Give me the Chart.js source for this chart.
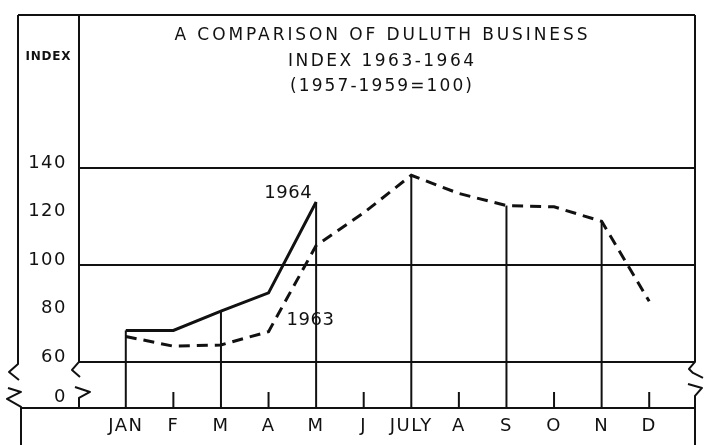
<!DOCTYPE html>
<html>
<head>
<meta charset="utf-8">
<script src="https://cdn.jsdelivr.net/npm/chart.js@4.4.1/dist/chart.umd.min.js"></script>
<style>
  html, body { margin: 0; padding: 0; background: #fff; }
  #wrap { width: 704px; height: 445px; }
</style>
</head>
<body>
<div id="wrap"><canvas id="chart"></canvas></div>
<script>
// Duluth business index, 1957-1959 = 100
const months = ['JAN', 'F', 'M', 'A', 'M', 'J', 'JULY', 'A', 'S', 'O', 'N', 'D'];
const index1964 = [73, 73, 81, 88.5, 126, null, null, null, null, null, null, null];
const index1963 = [70.5, 66.5, 67, 72.5, 108, 121.5, 137, 129.5, 124.5, 124, 118, 85];
const yTicks = [140, 120, 100, 80, 60];
const yTickLabels = ['140', '120', '100', '80', '60', '0'];
const gridValues = [140, 100, 60];
const breakValue = 43.5; // where the "0" sits below the axis break
const titleLines = ['A COMPARISON OF DULUTH BUSINESS', 'INDEX 1963-1964', '(1957-1959=100)'];

const ink = '#111';
const font = "'DejaVu Sans', sans-serif";

function line(ctx, pts) {
    ctx.beginPath();
    ctx.moveTo(pts[0][0], pts[0][1]);
    for (let i = 1; i < pts.length; i++) ctx.lineTo(pts[i][0], pts[i][1]);
    ctx.stroke();
}

// spread a line of text to a given width, like the old lettering
function spacedText(ctx, text, cx, cy, width) {
    ctx.letterSpacing = '0px';
    const w = ctx.measureText(text).width;
    const gap = Math.max(0, (width - w) / (text.length - 1));
    ctx.letterSpacing = gap + 'px';
    ctx.fillText(text, cx + gap / 2, cy);
}

const framePlugin = {
    id: 'frame',
    beforeDraw(chart) {
        chart.ctx.letterSpacing = '1.5px';
    },
    beforeDatasetsDraw(chart) {
        const { ctx, chartArea: a, scales: { x, y } } = chart;
        const top = 15, left = 18, sep = 79, right = 695, bottom = 445;
        const y60 = y.getPixelForValue(60);
        ctx.save();
        ctx.strokeStyle = ink;
        ctx.lineWidth = 2;
        ctx.lineJoin = 'round';

        // horizontal rules
        gridValues.forEach(v => {
            const py = y.getPixelForValue(v);
            line(ctx, [[sep, py], [right, py]]);
        });
        line(ctx, [[left + 3, a.bottom], [right, a.bottom]]);

        // month rules: full drops on alternate months, short ticks between
        months.forEach((m, i) => {
            const px = x.getPixelForValue(i);
            if (i % 2 === 0) {
                const vals = [index1964[i], index1963[i]].filter(v => v != null);
                line(ctx, [[px, y.getPixelForValue(Math.max(...vals))], [px, a.bottom]]);
            } else {
                line(ctx, [[px, a.bottom - 16], [px, a.bottom]]);
            }
        });

        // outer frame with the axis-break marks
        line(ctx, [[left, top], [right, top]]);
        line(ctx, [[left, top], [left, y60 + 2], [left - 9, y60 + 10], [left + 1, y60 + 18]]);
        line(ctx, [[left - 10, y60 + 26], [left + 3, y60 + 30], [left - 11, y60 + 37], [left + 3, y60 + 45], [left + 3, bottom]]);
        line(ctx, [[sep, top], [sep, y60], [sep - 7, y60 + 8], [sep + 1, y60 + 15]]);
        line(ctx, [[sep - 4, y60 + 25], [sep + 11, y60 + 30], [sep, y60 + 36], [sep, a.bottom]]);
        line(ctx, [[right, top], [right, y60], [right - 6, y60 + 7], [right - 2, y60 + 11], [right + 8, y60 + 16]]);
        line(ctx, [[right - 7, y60 + 22], [right + 7, y60 + 26], [right, y60 + 34], [right, bottom]]);
        ctx.restore();
    },
    afterDraw(chart) {
        const { ctx } = chart;
        ctx.save();
        ctx.fillStyle = ink;
        ctx.textAlign = 'center';
        ctx.textBaseline = 'middle';

        ctx.font = '17px ' + font;
        const widths = [413, 186, 182];
        const rows = [36, 62, 87];
        titleLines.forEach((t, i) => spacedText(ctx, t, 381, rows[i], widths[i]));

        ctx.font = 'bold 12px ' + font;
        spacedText(ctx, 'INDEX', 48, 57, 45);

        // series labels next to their lines
        ctx.font = '18px ' + font;
        ctx.letterSpacing = '0.5px';
        const p64 = chart.getDatasetMeta(0).data[4];
        ctx.textAlign = 'right';
        ctx.fillText('1964', p64.x - 4, p64.y - 9);
        const p63 = chart.getDatasetMeta(1).data[3];
        ctx.textAlign = 'left';
        ctx.fillText('1963', p63.x + 18, p63.y - 11);
        ctx.restore();
    }
};

new Chart(document.getElementById('chart'), {
    type: 'line',
    data: {
        labels: months,
        datasets: [
            {
                label: '1964',
                data: index1964,
                borderColor: ink,
                borderWidth: 3,
                pointRadius: 0,
                tension: 0,
                spanGaps: false
            },
            {
                label: '1963',
                data: index1963,
                borderColor: ink,
                borderWidth: 3,
                borderDash: [11, 7],
                pointRadius: 0,
                tension: 0
            }
        ]
    },
    options: {
        responsive: true,
        maintainAspectRatio: false,
        animation: false,
        devicePixelRatio: 1,
        layout: { padding: { top: 168, right: 31, left: 0, bottom: 0 } },
        plugins: {
            legend: { display: false },
            tooltip: { enabled: false },
            title: { display: false }
        },
        scales: {
            x: {
                offset: true,
                grid: { display: false, drawTicks: false },
                border: { display: false },
                ticks: {
                    color: ink,
                    font: { family: font, size: 18 },
                    padding: 8,
                    maxRotation: 0,
                    autoSkip: false
                },
                afterFit: s => { s.height = 37; }
            },
            y: {
                min: 41,
                max: 140,
                grid: { display: false, drawTicks: false },
                border: { display: false },
                afterBuildTicks: s => {
                    s.ticks = yTicks.concat(breakValue).map(v => ({ value: v }));
                },
                ticks: {
                    color: ink,
                    font: { family: font, size: 18 },
                    padding: 35,
                    labelOffset: -5,
                    callback: (v, i) => yTickLabels[i]
                },
                afterFit: s => {
                    s.width = 102;
                    s.paddingTop = 0;
                    s.paddingBottom = 0;
                }
            }
        }
    },
    plugins: [framePlugin]
});
</script>
</body>
</html>
